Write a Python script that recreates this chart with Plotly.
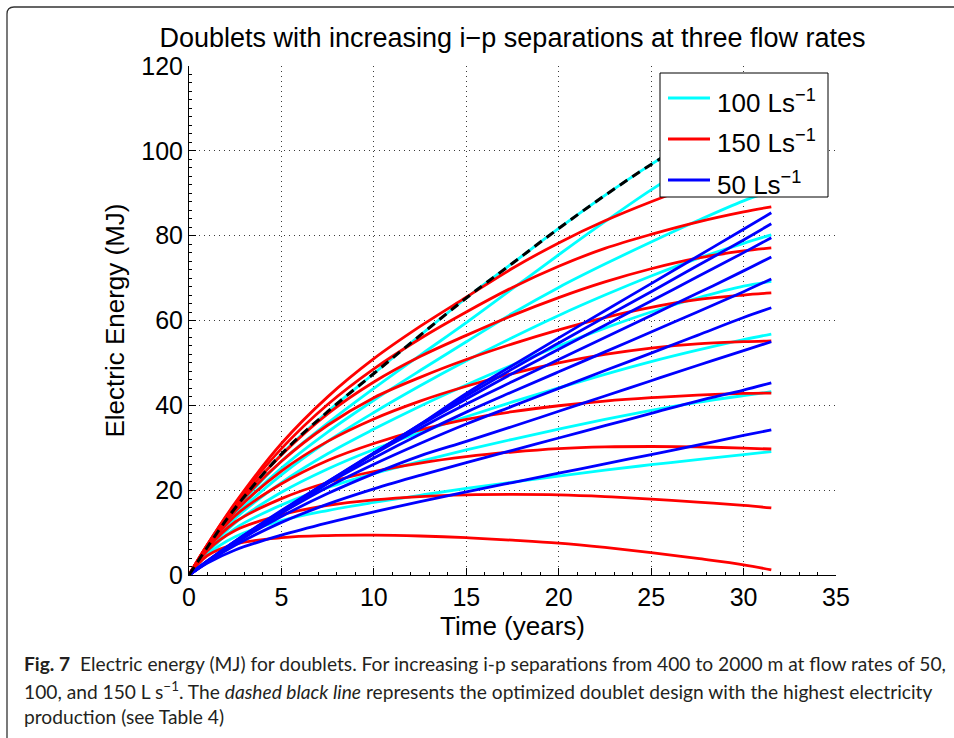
import plotly.graph_objects as go

# ---------------- data ----------------
years = [0, 1, 2.5, 5, 7.5, 10, 12.5, 15, 17.5, 20, 22.5, 25, 27.5, 30, 31.5]

# 100 L/s doublets (cyan)
energy_100 = [
    [0, 6.6, 15.8, 28.5, 38.5, 47.5, 56.5, 65.3, 73.5, 81.7, 89.5, 96.8, 103.5, 109.5, 113.0],
    [0, 6.6, 15.3, 26.8, 35.8, 44.0, 51.8, 59.5, 67.5, 75.5, 83.3, 90.8, 97.5, 103.3, 106.5],
    [0, 6.4, 14.7, 25.2, 33.7, 41.2, 48.2, 55.0, 61.7, 67.8, 73.3, 78.5, 83.5, 88.2, 90.5],
    [0, 6.2, 14.0, 23.6, 31.5, 38.3, 44.6, 50.5, 56.0, 61.2, 66.0, 70.5, 74.6, 78.2, 80.2],
    [0, 6.0, 13.3, 21.8, 28.6, 34.4, 39.8, 44.8, 49.5, 54.0, 58.2, 62.0, 65.3, 68.1, 69.2],
    [0, 5.7, 12.3, 19.5, 25.0, 29.6, 33.6, 37.3, 40.8, 44.1, 47.3, 50.3, 53.0, 55.5, 56.8],
    [0, 5.3, 11.0, 16.5, 20.6, 23.9, 26.8, 29.5, 32.0, 34.4, 36.7, 38.8, 40.7, 42.3, 43.2],
    [0, 4.8, 9.0, 12.8, 15.2, 17.1, 18.8, 20.4, 21.9, 23.3, 24.7, 26.0, 27.2, 28.4, 29.1],
]

# 150 L/s doublets (red)
energy_150 = [
    [0, 7.2, 17.0, 31.0, 42.0, 51.0, 58.6, 65.5, 72.3, 78.3, 83.5, 88.0, 92.0, 95.3, 97.3],
    [0, 7.2, 16.7, 29.8, 40.2, 48.6, 55.7, 62.0, 67.8, 72.8, 77.0, 80.3, 83.2, 85.6, 86.8],
    [0, 7.1, 16.3, 28.3, 38.0, 45.5, 51.5, 56.5, 61.2, 65.4, 69.1, 72.2, 74.7, 76.4, 77.1],
    [0, 7.0, 15.8, 26.8, 35.3, 41.8, 46.6, 50.8, 54.5, 57.8, 60.7, 63.1, 64.9, 66.0, 66.5],
    [0, 6.8, 15.0, 24.5, 31.5, 36.8, 41.0, 44.5, 47.5, 50.0, 52.0, 53.5, 54.5, 55.0, 55.2],
    [0, 6.6, 14.0, 21.5, 27.0, 31.0, 34.2, 36.7, 38.5, 39.9, 41.0, 41.8, 42.4, 42.8, 42.9],
    [0, 6.3, 12.5, 18.0, 21.8, 24.4, 26.4, 27.9, 29.0, 29.8, 30.2, 30.3, 30.2, 29.9, 29.7],
    [0, 5.8, 10.5, 14.2, 16.4, 17.7, 18.5, 18.9, 19.0, 18.9, 18.5, 17.9, 17.2, 16.4, 15.8],
    [0, 4.6, 7.3, 8.8, 9.3, 9.4, 9.2, 8.8, 8.2, 7.5, 6.5, 5.3, 3.9, 2.4, 1.2],
]

# 50 L/s doublets (blue)
energy_50 = [
    [0, 3.0, 7.4, 14.6, 21.6, 28.6, 35.5, 42.8, 49.4, 55.9, 62.3, 68.7, 75.1, 81.5, 85.4],
    [0, 3.1, 7.6, 14.8, 21.8, 28.7, 35.5, 42.2, 48.6, 54.7, 60.8, 66.8, 72.9, 79.0, 82.8],
    [0, 3.2, 7.8, 15.0, 22.0, 28.8, 35.3, 41.5, 47.5, 53.2, 58.9, 64.6, 70.3, 76.0, 79.5],
    [0, 3.3, 8.0, 15.2, 22.0, 28.5, 34.6, 40.3, 45.6, 50.8, 56.0, 61.2, 66.4, 71.7, 75.0],
    [0, 3.3, 8.0, 15.0, 21.6, 27.6, 33.2, 38.4, 43.2, 47.9, 52.6, 57.3, 62.0, 66.8, 69.8],
    [0, 3.3, 7.9, 14.6, 20.7, 26.1, 31.0, 35.6, 39.8, 44.0, 48.2, 52.3, 56.5, 60.7, 63.0],
    [0, 3.2, 7.6, 13.8, 19.2, 23.9, 28.1, 31.5, 35.0, 38.6, 42.2, 45.8, 49.4, 52.9, 55.0],
    [0, 3.1, 7.0, 12.4, 16.7, 20.3, 23.5, 26.5, 29.4, 32.3, 35.2, 38.1, 41.0, 43.6, 45.3],
    [0, 2.8, 5.9, 9.4, 12.3, 14.9, 17.3, 19.6, 21.8, 24.0, 26.2, 28.4, 30.6, 32.9, 34.2],
]

# optimized doublet design (dashed black)
optimized = [0, 6.6, 15.8, 28.5, 38.5, 47.5, 56.5, 65.3, 73.5, 81.7, 89.5, 96.8, 103.5, 109.5, 113.0]

legend_names = ["100 Ls<sup>\u22121</sup>", "150 Ls<sup>\u22121</sup>", "50 Ls<sup>\u22121</sup>"]
line_colors = ["#00FFFF", "#FF0000", "#0000FF"]

title_text = "Doublets with increasing i\u2212p separations at three flow rates"
x_title = "Time (years)"
y_title = "Electric Energy (MJ)"
x_ticks = [0, 5, 10, 15, 20, 25, 30, 35]
y_ticks = [0, 20, 40, 60, 80, 100, 120]

caption_lines = [
    "<b>Fig. 7</b>\u00a0\u00a0Electric energy (MJ) for doublets. For increasing i-p separations from 400 to 2000 m at flow rates of 50,",
    "100, and 150 L s<sup>\u22121</sup>. The <i>dashed black line</i> represents the optimized doublet design with the highest electricity",
    "production (see Table 4)",
]

# ---------------- figure ----------------
FONT = "Liberation Sans, Arial, Helvetica, sans-serif"
fig = go.Figure()

for group, name, color in zip([energy_100, energy_150, energy_50], legend_names, line_colors):
    for i, series in enumerate(group):
        fig.add_trace(go.Scatter(
            x=years, y=series, mode="lines",
            line=dict(color=color, width=2.8, shape="spline", smoothing=1.0),
            name=name, legendgroup=name, showlegend=False,
            hoverinfo="skip",
        ))

fig.add_trace(go.Scatter(
    x=years, y=optimized, mode="lines",
    line=dict(color="black", width=3, dash="9px,6px", shape="spline", smoothing=1.0),
    showlegend=False, hoverinfo="skip",
))

# plot-area geometry in pixels
L, R, T, B = 189, 836, 66, 575
W, H = 954, 738


def px(xp):
    return (xp - L) / (R - L)


def py(yp):
    return (B - yp) / (B - T)


axis_common = dict(
    showline=True, linecolor="black", linewidth=1,
    ticks="inside", ticklen=7, tickwidth=1, tickcolor="black",
    showgrid=True, gridcolor="#3a3a3a", gridwidth=1, griddash="1px,4px",
    zeroline=False, mirror=False,
    tickfont=dict(family=FONT, size=25, color="black"),
)

fig.update_layout(
    width=W, height=H,
    margin=dict(l=L, r=W - R, t=T, b=H - B, pad=0),
    paper_bgcolor="white", plot_bgcolor="white",
    title=dict(text=title_text, x=0.5, xref="paper", xanchor="center",
               y=1 - 38 / H, yref="container", yanchor="middle",
               font=dict(family=FONT, size=27, color="black")),
    xaxis=dict(range=[0, 35], tickmode="array", tickvals=x_ticks,
               title=dict(text=x_title, font=dict(family=FONT, size=26, color="black"), standoff=5),
               minor=dict(ticks="inside", ticklen=3, dtick=1, tickcolor="black", showgrid=False),
               **axis_common),
    yaxis=dict(range=[0, 120], tickmode="array", tickvals=y_ticks,
               title=dict(text=y_title, font=dict(family=FONT, size=26, color="black"), standoff=9),
               minor=dict(ticks="inside", ticklen=3, dtick=2, tickcolor="black", showgrid=False),
               **axis_common),
    showlegend=False,
)

# legend box drawn like the MATLAB legend
lx0, ly0, lx1, ly1 = 660, 73, 828, 197
fig.add_shape(type="rect", xref="paper", yref="paper",
              x0=px(lx0), y0=py(ly1), x1=px(lx1), y1=py(ly0),
              fillcolor="white", line=dict(color="black", width=1), layer="above")
legend_rows = [98, 139, 180]
for name, color, yy in zip(legend_names, line_colors, legend_rows):
    fig.add_shape(type="line", xref="paper", yref="paper",
                  x0=px(668), x1=px(710), y0=py(yy), y1=py(yy),
                  line=dict(color=color, width=3), layer="above")
    fig.add_annotation(text=name, xref="paper", yref="paper", x=px(715), y=py(yy + 3),
                       xanchor="left", yanchor="middle", showarrow=False,
                       font=dict(family=FONT, size=26, color="black"))

# caption
cap_y = [663, 690, 716]
for text, yy in zip(caption_lines, cap_y):
    fig.add_annotation(text=text, xref="paper", yref="paper", x=px(22), y=py(yy),
                       xanchor="left", yanchor="middle", showarrow=False, align="left",
                       font=dict(family="Lato, Noto Sans, sans-serif", size=19.2, color="#231f20"))

# rounded frame (top-left corner visible)
fx0, fy0, r = 7, 7, 7
path = (f"M {px(fx0)} {py(H + 5)} L {px(fx0)} {py(fy0 + r)} "
        f"Q {px(fx0)} {py(fy0)} {px(fx0 + r)} {py(fy0)} L {px(W + 5)} {py(fy0)}")
fig.add_shape(type="path", path=path, xref="paper", yref="paper",
              line=dict(color="#333333", width=1.3), layer="above")

fig.write_html("out.html")
